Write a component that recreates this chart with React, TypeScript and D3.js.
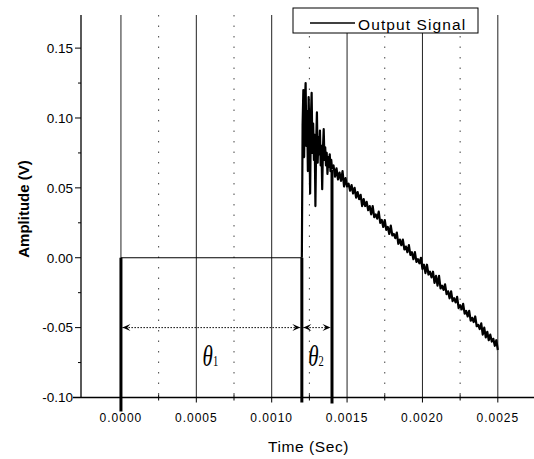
import React from "react";
import * as d3 from "d3";

const W = 534;
const H = 459;

// Axis ticks
const xTickValues = [0, 0.0005, 0.001, 0.0015, 0.002, 0.0025];
const xTickLabels = ["0.0000", "0.0005", "0.0010", "0.0015", "0.0020", "0.0025"];
const xMinorValues = [0.00025, 0.00075, 0.00125, 0.00175, 0.00225];
const yTickValues = [-0.1, -0.05, 0, 0.05, 0.1, 0.15];
const yTickLabels = ["-0.10", "-0.05", "0.00", "0.05", "0.10", "0.15"];
const yMinorValues = [-0.075, -0.025, 0.025, 0.075, 0.125];

// Signal: flat part before the pulse arrives
const baselineTimes = [0, 0.0012];
const baselineValues = [0, 0];

// Signal: noisy onset, sampled every 5 µs from 1.2 ms
const spikeStart = 0.0012;
const spikeStep = 0.000005;
const spikeValues = [
  0.0, 0.095, 0.12, 0.072, 0.11, 0.125, 0.08, 0.105, 0.062, 0.115,
  0.09, 0.046, 0.1, 0.118, 0.075, 0.096, 0.07, 0.088, 0.037, 0.082,
  0.104, 0.068, 0.086, 0.074, 0.091, 0.066, 0.08, 0.049, 0.078, 0.092,
  0.07, 0.079, 0.066, 0.075, 0.06, 0.072, 0.065, 0.074, 0.062, 0.07,
  0.064,
];

// Signal: decaying ramp, sampled every 10 µs from 1.41 ms
const rampStart = 0.00141;
const rampStep = 0.00001;
const rampValues = [
  0.066, 0.058, 0.064, 0.056, 0.061, 0.055, 0.062, 0.051, 0.057, 0.051,
  0.053, 0.048, 0.052, 0.046, 0.05, 0.043, 0.047, 0.042, 0.045, 0.037,
  0.042, 0.037, 0.04, 0.034, 0.037, 0.031, 0.037, 0.029, 0.031, 0.028,
  0.033, 0.025, 0.027, 0.022, 0.027, 0.02, 0.022, 0.017, 0.023, 0.016,
  0.017, 0.014, 0.018, 0.01, 0.013, 0.009, 0.013, 0.006, 0.008, 0.004,
  0.009, 0.002, 0.004, -0.001, 0.004, -0.003, -0.001, -0.004, 0.0, -0.008,
  -0.005, -0.011, -0.005, -0.012, -0.01, -0.014, -0.01, -0.018, -0.013, -0.02,
  -0.013, -0.022, -0.02, -0.023, -0.019, -0.026, -0.024, -0.029, -0.024, -0.031,
  -0.029, -0.032, -0.028, -0.036, -0.034, -0.037, -0.033, -0.04, -0.038, -0.042,
  -0.038, -0.045, -0.043, -0.046, -0.042, -0.049, -0.048, -0.051, -0.047, -0.055,
  -0.05, -0.057, -0.053, -0.059, -0.055, -0.06, -0.058, -0.063, -0.059, -0.066,
];

// Time markers (theta intervals)
const markerTimes = [0, 0.0012, 0.0014];
const markerTops = [0, 0, 0.063];
const markerDrop = [14, 5, 6];
const thetaSubs = ["1", "2"];
const arrowLevel = -0.05;

const legendLabel = "Output Signal";
const xTitle = "Time (Sec)";
const yTitle = "Amplitude (V)";

export default function App() {
  const x = d3.scaleLinear().domain([-0.000265, 0.00274]).range([81, 534]);
  const y = d3.scaleLinear().domain([-0.1, 0.1737]).range([397.5, 15]);
  const top = y.range()[1];
  const bottom = y.range()[0];
  const left = x.range()[0];
  const right = x.range()[1];

  const basePts: [number, number][] = baselineTimes.map((t, i) => [t, baselineValues[i]]);
  const noisyPts: [number, number][] = [];
  spikeValues.forEach((v, i) => noisyPts.push([spikeStart + i * spikeStep, v]));
  rampValues.forEach((v, i) => noisyPts.push([rampStart + i * rampStep, v]));

  const line = d3
    .line<[number, number]>()
    .x((d) => x(d[0]))
    .y((d) => y(d[1]));

  const font = "Arial, 'Liberation Sans', sans-serif";
  const ay = y(arrowLevel);

  const arrowHead = (tipX: number, dir: number) => {
    const L = 8;
    const hw = 3.5;
    return `M${tipX},${ay} L${tipX - dir * L},${ay - hw} L${tipX - dir * L * 0.6},${ay} L${tipX - dir * L},${ay + hw} Z`;
  };

  return (
    <svg
      width={W}
      height={H}
      style={{ position: "absolute", left: 0, top: 0, background: "#fff" }}
    >
      <rect x={0} y={0} width={W} height={H} fill="#fff" />
      {/* minor grid (dotted) */}
      {xMinorValues.map((v) => (
        <line
          key={"mg" + v}
          x1={x(v)}
          x2={x(v)}
          y1={top}
          y2={bottom}
          stroke="#444"
          strokeWidth={1}
          strokeDasharray="1.5,9"
        />
      ))}
      {/* major grid */}
      {xTickValues.map((v) => (
        <line
          key={"g" + v}
          x1={x(v)}
          x2={x(v)}
          y1={top}
          y2={bottom}
          stroke="#222"
          strokeWidth={1}
        />
      ))}
      {/* axes */}
      <line x1={left} x2={left} y1={top} y2={bottom} stroke="#000" strokeWidth={1.3} />
      <line x1={left - 8} x2={right} y1={bottom} y2={bottom} stroke="#000" strokeWidth={1.3} />
      {yTickValues.map((v, i) => (
        <g key={"yt" + v}>
          <line x1={left - 6} x2={left} y1={y(v)} y2={y(v)} stroke="#000" strokeWidth={1} />
          <text
            x={left - 8}
            y={y(v)}
            dy="0.36em"
            textAnchor="end"
            fontFamily={font}
            fontSize={13.5}
            fill="#000"
          >
            {yTickLabels[i]}
          </text>
        </g>
      ))}
      {yMinorValues.map((v) => (
        <line key={"ym" + v} x1={left - 3} x2={left} y1={y(v)} y2={y(v)} stroke="#000" strokeWidth={1} />
      ))}
      {xTickValues.map((v, i) => (
        <g key={"xt" + v}>
          <line x1={x(v)} x2={x(v)} y1={bottom} y2={bottom + 5} stroke="#000" strokeWidth={1} />
          <text
            x={x(v)}
            y={bottom + 24}
            textAnchor="middle"
            fontFamily={font}
            fontSize={12}
            letterSpacing={1}
            fill="#000"
          >
            {xTickLabels[i]}
          </text>
        </g>
      ))}
      {xMinorValues.map((v) => (
        <line key={"xm" + v} x1={x(v)} x2={x(v)} y1={bottom - 3} y2={bottom + 3} stroke="#000" strokeWidth={1} />
      ))}
      {/* axis titles */}
      <text
        x={(left + right) / 2 + 1}
        y={452}
        textAnchor="middle"
        fontFamily={font}
        fontSize={15.5}
        letterSpacing={0.6}
        fill="#000"
      >
        {xTitle}
      </text>
      <text
        transform={`translate(29,209) rotate(-90)`}
        textAnchor="middle"
        fontFamily={font}
        fontSize={15}
        fontWeight="bold"
        fill="#000"
      >
        {yTitle}
      </text>

      {/* marker lines */}
      {markerTimes.map((t, i) => (
        <line
          key={"mk" + t}
          x1={x(t)}
          x2={x(t)}
          y1={y(markerTops[i])}
          y2={bottom + markerDrop[i]}
          stroke="#000"
          strokeWidth={3}
        />
      ))}

      {/* signal */}
      <path d={line(basePts) || ""} fill="none" stroke="#000" strokeWidth={1.2} />
      <path d={line(noisyPts) || ""} fill="none" stroke="#000" strokeWidth={2.2} strokeLinejoin="round" />

      {/* interval arrows + theta labels */}
      {thetaSubs.map((s, i) => {
        const x0 = x(markerTimes[i]) + 1.5;
        const x1 = x(markerTimes[i + 1]) - 1.5;
        const mid = (x(markerTimes[i]) + x(markerTimes[i + 1])) / 2 - 1;
        return (
          <g key={"th" + s}>
            <line x1={x0} x2={x1} y1={ay} y2={ay} stroke="#000" strokeWidth={1} strokeDasharray="1.5,1.5" />
            <path d={arrowHead(x0, -1)} fill="#000" />
            <path d={arrowHead(x1, 1)} fill="#000" />
            <g transform={`translate(${mid},366) scale(0.7,1)`}>
              <text
                textAnchor="middle"
                fontFamily="'Liberation Serif', 'Times New Roman', serif"
                fontSize={30}
                fontStyle="italic"
                fill="#000"
              >
                θ
                <tspan fontSize={15} fontStyle="normal">
                  {s}
                </tspan>
              </text>
            </g>
          </g>
        );
      })}

      {/* legend */}
      <rect x={293} y={8} width={185} height={25} fill="#fff" stroke="#000" strokeWidth={1} />
      <line x1={310} x2={355} y1={23} y2={23} stroke="#000" strokeWidth={1.3} />
      <text x={358} y={29.5} fontFamily={font} fontSize={15.5} letterSpacing={1.1} fill="#000">
        {legendLabel}
      </text>
    </svg>
  );
}
